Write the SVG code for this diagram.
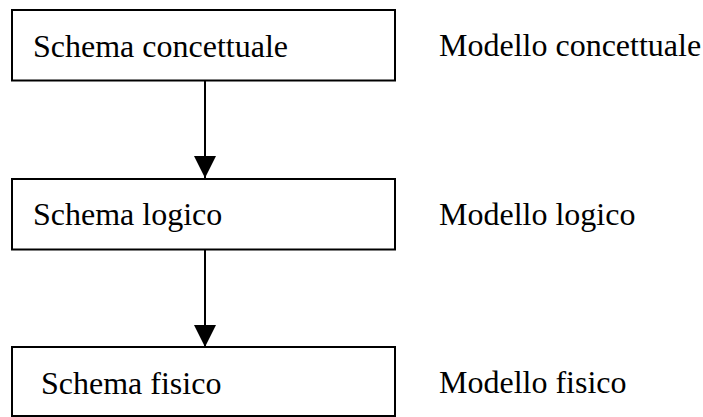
<svg xmlns="http://www.w3.org/2000/svg" width="703" height="417" viewBox="0 0 703 417">
  <style>
    .box { fill: #ffffff; stroke: #000000; stroke-width: 2; }
    .lbl { font-family: "Liberation Serif", "Times New Roman", serif; font-size: 32px; fill: #000000; }
    .edge { stroke: #000000; stroke-width: 2; fill: none; }
  </style>
  <defs>
    <marker id="arrowhead" markerUnits="userSpaceOnUse" markerWidth="22" markerHeight="22" refX="22" refY="11" orient="auto">
      <path d="M0,0 L22,11 L0,22 Z" fill="#000000"/>
    </marker>
  </defs>
  <rect width="703" height="417" fill="#ffffff"/>

  <g id="connectors">
    <line class="edge" x1="205" y1="81" x2="205" y2="178" marker-end="url(#arrowhead)"/>
    <line class="edge" x1="205" y1="250" x2="205" y2="347" marker-end="url(#arrowhead)"/>
  </g>

  <g id="schema-concettuale">
    <rect class="box" x="12" y="10" width="383" height="70.5"/>
    <text class="lbl" x="33" y="57">Schema concettuale</text>
  </g>
  <g id="schema-logico">
    <rect class="box" x="12" y="179" width="383" height="70.5"/>
    <text class="lbl" x="33" y="225">Schema logico</text>
  </g>
  <g id="schema-fisico">
    <rect class="box" x="12" y="347" width="383" height="69"/>
    <text class="lbl" x="41" y="394">Schema fisico</text>
  </g>

  <g id="modello-concettuale">
    <text class="lbl" x="439" y="56">Modello concettuale</text>
  </g>
  <g id="modello-logico">
    <text class="lbl" x="439" y="225">Modello logico</text>
  </g>
  <g id="modello-fisico">
    <text class="lbl" x="439" y="393">Modello fisico</text>
  </g>
</svg>
